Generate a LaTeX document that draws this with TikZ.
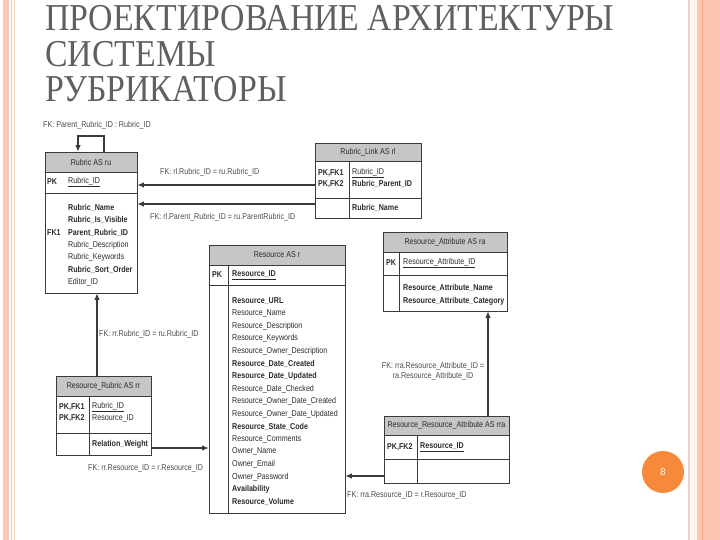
\documentclass[tikz,border=0pt]{standalone}
\usepackage{fontspec}
\usepackage{graphicx}
\setmainfont{Liberation Sans}
\newfontfamily\titlefont{Liberation Serif}
\usetikzlibrary{arrows.meta}
\definecolor{boxc}{HTML}{3A3A3A}
\definecolor{hdrgray}{HTML}{C6C6C6}
\definecolor{txtc}{HTML}{2A2A2A}
\definecolor{lblc}{HTML}{4A4A4A}
\definecolor{titlec}{HTML}{606060}
\definecolor{salmon}{HTML}{FCC6B3}
\definecolor{salmondk}{HTML}{F2A286}
\definecolor{pinkline}{HTML}{EFCFC2}
\definecolor{creamc}{HTML}{FFF5EA}
\definecolor{orangec}{HTML}{F7893A}
\newcommand{\sqz}[1]{\scalebox{0.84}[1]{#1}}
\newcommand{\tsqz}[1]{\scalebox{0.89}[1]{#1}}
\tikzset{
  tbl/.style={draw=boxc, line width=0.8pt, inner sep=0pt},
  hdr/.style={draw=boxc, fill=hdrgray, line width=0.8pt, inner sep=0pt, anchor=north west,
              font=\fontsize{8.5}{10}\selectfont, text=txtc},
  sep/.style={draw=boxc, line width=0.8pt},
  txt/.style={anchor=west, inner sep=0pt, font=\fontsize{8.5}{10}\selectfont, text=txtc},
  lbl/.style={anchor=west, inner sep=0pt, font=\fontsize{8.5}{10}\selectfont, text=lblc},
  conn/.style={draw=boxc, line width=1.1pt, -{Latex[length=6.5pt,width=5.5pt]}},
  ttl/.style={anchor=base west, inner sep=0pt, font=\titlefont\fontsize{38}{40}\selectfont, text=titlec}
}
\begin{document}
\begin{tikzpicture}[x=1pt,y=-1pt]
\useasboundingbox (0,0) rectangle (720,540);
% page border stripes
\fill[salmon] (3,0) rectangle (9,540);
\draw[pinkline, line width=1pt] (11.5,0) -- (11.5,540);
\draw[creamc!80!orange, line width=0.8pt] (14,0) -- (14,540);
\draw[pinkline, line width=1.2pt] (689,0) -- (689,540);
\fill[creamc] (691,0) rectangle (697,540);
\fill[salmon] (697,0) rectangle (720,540);
\draw[salmondk, line width=1pt] (702.5,0) -- (702.5,540);

% title
\node[ttl] (t1) at (45,31) {\tsqz{ПРОЕКТИРОВАНИЕ АРХИТЕКТУРЫ}};
\node[ttl] (t2) at (45,67) {\tsqz{СИСТЕМЫ}};
\node[ttl] (t3) at (45,102) {\tsqz{РУБРИКАТОРЫ}};

% ---- Rubric AS ru
\node[tbl, minimum width=92pt, minimum height=141pt] (ru) at (91,222.5) {};
\node[hdr, minimum width=92pt, minimum height=20pt] (ruh) at (ru.north west) {\sqz{Rubric AS ru}};
\draw[sep] (45,193) -- (137,193);
\node[txt] (rupk) at (47,182) {\sqz{\textbf{PK}}};
\node[txt] (ruid) at (68,182) {\sqz{\underline{Rubric\_ID}}};
\node[txt] (rufk) at (47,232.7) {\sqz{\textbf{FK1}}};
\foreach \t [count=\i] in {{\textbf{Rubric\_Name}},{\textbf{Rubric\_Is\_Visible}},{\textbf{Parent\_Rubric\_ID}},{Rubric\_Description},{Rubric\_Keywords},{\textbf{Rubric\_Sort\_Order}},{Editor\_ID}}
  \node[txt] (rua\i) at (68,{208+12.35*(\i-1)}) {\sqz{\t}};

% ---- Rubric_Link AS rl
\node[tbl, minimum width=106pt, minimum height=75pt] (rl) at (368,180.5) {};
\node[hdr, minimum width=106pt, minimum height=18pt] (rlh) at (rl.north west) {\sqz{Rubric\_Link AS rl}};
\draw[sep] (315,198) -- (421,198);
\draw[sep] (349,161) -- (349,218);
\node[txt] (rlk1) at (318,173) {\sqz{\textbf{PK,FK1}}};
\node[txt] (rlk2) at (318,184) {\sqz{\textbf{PK,FK2}}};
\node[txt] (rlf1) at (352,173) {\sqz{\underline{Rubric\_ID}}};
\node[txt] (rlf2) at (352,184) {\sqz{\textbf{Rubric\_Parent\_ID}}};
\node[txt] (rlf3) at (352,208) {\sqz{\textbf{Rubric\_Name}}};

% ---- Resource_Attribute AS ra
\node[tbl, minimum width=124pt, minimum height=79pt] (ra) at (445,271.5) {};
\node[hdr, minimum width=124pt, minimum height=20pt] (rah) at (ra.north west) {\sqz{Resource\_Attribute AS ra}};
\draw[sep] (383,275) -- (507,275);
\draw[sep] (399,252) -- (399,311);
\node[txt] (rapk) at (386,263) {\sqz{\textbf{PK}}};
\node[txt] (raf1) at (403,263) {\sqz{\underline{Resource\_Attribute\_ID}}};
\node[txt] (raf2) at (403,288) {\sqz{\textbf{Resource\_Attribute\_Name}}};
\node[txt] (raf3) at (403,301) {\sqz{\textbf{Resource\_Attribute\_Category}}};

% ---- Resource AS r
\node[tbl, minimum width=136pt, minimum height=268pt] (r) at (277,379) {};
\node[hdr, minimum width=136pt, minimum height=20pt] (rh) at (r.north west) {\sqz{Resource AS r}};
\draw[sep] (209,285) -- (345,285);
\draw[sep] (228,265) -- (228,513);
\node[txt] (rpk) at (212,275) {\sqz{\textbf{PK}}};
\node[txt] (rid) at (232,275) {\sqz{\textbf{\underline{Resource\_ID}}}};
\foreach \t [count=\i] in {{\textbf{Resource\_URL}},{Resource\_Name},{Resource\_Description},{Resource\_Keywords},{Resource\_Owner\_Description},{\textbf{Resource\_Date\_Created}},{\textbf{Resource\_Date\_Updated}},{Resource\_Date\_Checked},{Resource\_Owner\_Date\_Created},{Resource\_Owner\_Date\_Updated},{\textbf{Resource\_State\_Code}},{Resource\_Comments},{Owner\_Name},{Owner\_Email},{Owner\_Password},{\textbf{Availability}},{\textbf{Resource\_Volume}}}
  \node[txt] (ra\i) at (232,{301+12.56*(\i-1)}) {\sqz{\t}};

% ---- Resource_Rubric AS rr
\node[tbl, minimum width=95pt, minimum height=79pt] (rr) at (103.5,415.5) {};
\node[hdr, minimum width=95pt, minimum height=20pt] (rrh) at (rr.north west) {\sqz{Resource\_Rubric AS rr}};
\draw[sep] (56,433) -- (151,433);
\draw[sep] (89,396) -- (89,455);
\node[txt] (rrk1) at (59,407) {\sqz{\textbf{PK,FK1}}};
\node[txt] (rrk2) at (59,418) {\sqz{\textbf{PK,FK2}}};
\node[txt] (rrf1) at (92,407) {\sqz{\underline{Rubric\_ID}}};
\node[txt] (rrf2) at (92,418) {\sqz{Resource\_ID}};
\node[txt] (rrf3) at (92,444) {\sqz{\textbf{Relation\_Weight}}};

% ---- Resource_Resource_Attribute AS rra
\node[tbl, minimum width=125pt, minimum height=67pt] (rra) at (446.5,449.5) {};
\node[hdr, minimum width=125pt, minimum height=19pt] (rrah) at (rra.north west) {\sqz{Resource\_Resource\_Attribute AS rra}};
\draw[sep] (384,459) -- (509,459);
\draw[sep] (417,435) -- (417,483);
\node[txt] (rrak) at (387,447) {\sqz{\textbf{PK,FK2}}};
\node[txt] (rraf) at (420,447) {\sqz{\textbf{\underline{Resource\_ID}}}};

% ---- connectors
\coordinate (loopa) at (104,136);
\coordinate (loopb) at (78,136);
\draw[conn] (ru.north -| loopa) -- (loopa) -- (loopb) -- (ru.north -| loopb);
\draw[conn] (rl.west |- 0,185) -- (ru.east |- 0,185);
\draw[conn] (rl.west |- 0,204) -- (ru.east |- 0,204);
\draw[conn] (rr.north -| 97,0) -- (ru.south -| 97,0);
\draw[conn] (rr.east |- 0,448) -- (r.west |- 0,448);
\draw[conn] (rra.west |- 0,476) -- (r.east |- 0,476);
\draw[conn] (rra.north -| 488,0) -- (ra.south -| 488,0);

% ---- labels
\node[lbl] (l1) at (43,125) {\sqz{FK: Parent\_Rubric\_ID : Rubric\_ID}};
\node[lbl] (l2) at (160,172) {\sqz{FK: rl.Rubric\_ID = ru.Rubric\_ID}};
\node[lbl] (l3) at (150,217) {\sqz{FK: rl.Parent\_Rubric\_ID = ru.ParentRubric\_ID}};
\node[lbl] (l4) at (99,334) {\sqz{FK: rr.Rubric\_ID = ru.Rubric\_ID}};
\node[lbl] (l5) at (88,468) {\sqz{FK: rr.Resource\_ID = r.Resource\_ID}};
\node[lbl, anchor=center, align=center] (l6) at (433,371) {\sqz{FK: rra.Resource\_Attribute\_ID =}\\\sqz{ra.Resource\_Attribute\_ID}};
\node[lbl] (l7) at (347,495) {\sqz{FK: rra.Resource\_ID = r.Resource\_ID}};

% page number
\node[circle, fill=orangec, minimum size=42pt, inner sep=0pt, text=white,
      font=\fontsize{10}{12}\selectfont] (pg) at (663,472) {8};
\end{tikzpicture}
\end{document}
